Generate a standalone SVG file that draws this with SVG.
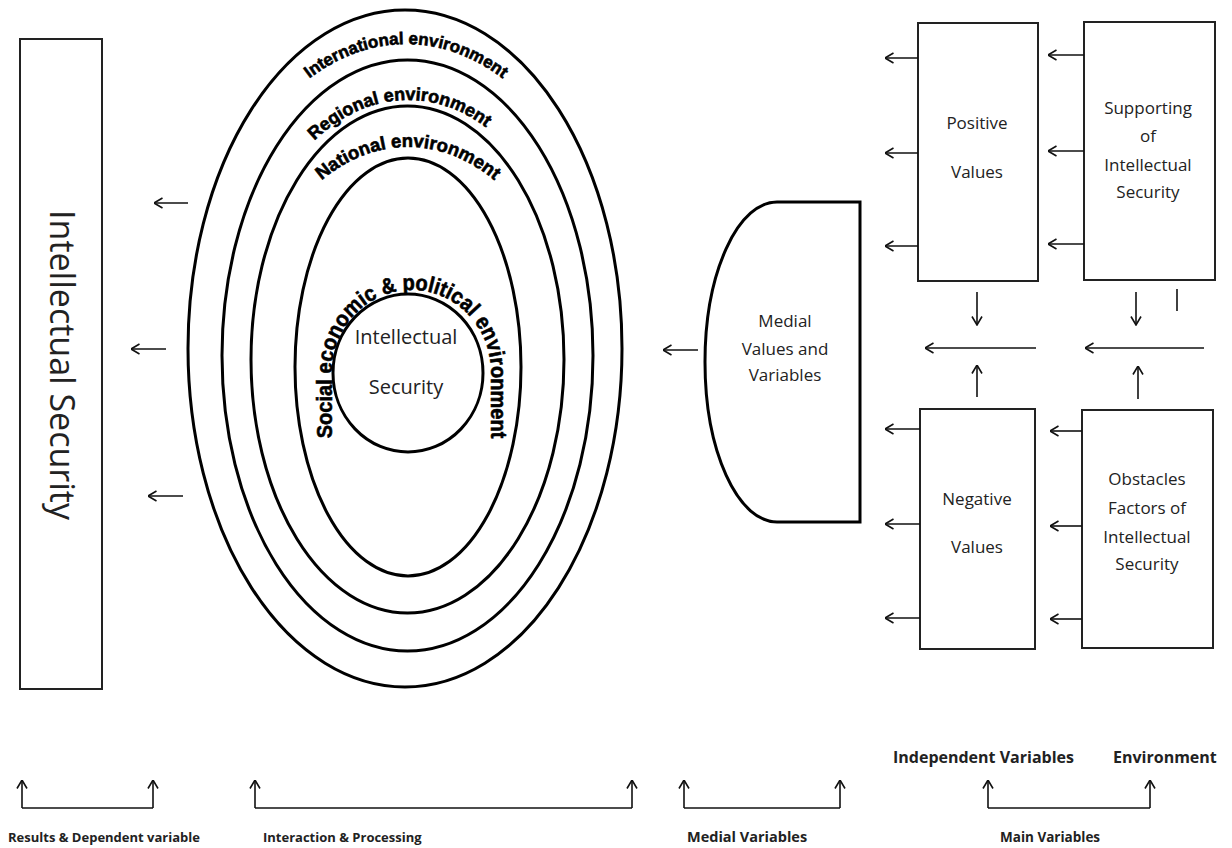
<svg xmlns="http://www.w3.org/2000/svg" width="1232" height="848" viewBox="0 0 1232 848">
<style>
.box{fill:#fff;stroke:#222;stroke-width:2}
.ring{fill:none;stroke:#000;stroke-width:3}
.ln{fill:none;stroke:#111;stroke-width:1.6}
.arr{fill:none;stroke:#111;stroke-width:1.6;marker-end:url(#ah)}
.t{font-family:"Open Sans","Liberation Sans",sans-serif;fill:#222;text-anchor:middle}
.w{font-family:"Liberation Sans",Arial,sans-serif;font-weight:bold;fill:#000;stroke:#000;stroke-width:0.6;text-anchor:middle}
.lb{font-family:"Open Sans","Liberation Sans",sans-serif;fill:#222;font-weight:bold}
</style>
<defs>
<marker id="ah" viewBox="0 0 10 12" refX="9.5" refY="6" markerWidth="10" markerHeight="12" markerUnits="userSpaceOnUse" orient="auto">
<path d="M1,1 L9.5,6 L1,11" fill="none" stroke="#111" stroke-width="1.6"/>
</marker>
<path id="pInt" d="M197,348 A209,304 0 0,1 615,348"/>
<path id="pReg" d="M235,355 A173,255 0 0,1 581,355"/>
<path id="pNat" d="M245,367 A163,220 0 0,1 571,367"/>
<path id="pSoc" d="M332,440 L332,372 A79.5,82 0 0,1 491,372 L491,440"/>
</defs>
<rect width="1232" height="848" fill="#fff"/>

<g id="result">
<rect class="box" x="20" y="39" width="82" height="650"/>
<text class="t" font-size="34" fill="#111" transform="translate(50,365) rotate(90)">Intellectual Security</text>
</g>

<g id="environment-rings">
<ellipse class="ring" cx="405" cy="348.5" rx="217" ry="338.5"/>
<ellipse class="ring" cx="407.5" cy="355.5" rx="185.5" ry="295.5"/>
<ellipse class="ring" cx="407.5" cy="359.5" rx="156.5" ry="253.5"/>
<ellipse class="ring" cx="408" cy="367" rx="113" ry="209"/>
<text class="w" font-size="17"><textPath href="#pInt" startOffset="50%">International environment</textPath></text>
<text class="w" font-size="18"><textPath href="#pReg" startOffset="48.5%">Regional environment</textPath></text>
<text class="w" font-size="18.5"><textPath href="#pNat" startOffset="50%">National environment</textPath></text>
<text class="w" font-size="22"><textPath href="#pSoc" startOffset="50%" textLength="386" lengthAdjust="spacingAndGlyphs">Social economic &amp; political environment</textPath></text>
</g>

<g id="core">
<ellipse class="ring" cx="408" cy="373" rx="75" ry="79"/>
<text class="t" font-size="20"><tspan x="406" y="344">Intellectual</tspan><tspan x="406" y="394">Security</tspan></text>
</g>

<g id="medial">
<path class="ring" d="M777,202 L860,202 L860,522 L777,522 A72,160 0 0,1 777,202 Z" fill="#fff"/>
<text class="t" font-size="17"><tspan x="785" y="327">Medial</tspan><tspan x="785" y="355">Values and</tspan><tspan x="785" y="381">Variables</tspan></text>
</g>

<g id="positive">
<rect class="box" x="918" y="23" width="120" height="258"/>
<text class="t" font-size="17"><tspan x="977" y="129">Positive</tspan><tspan x="977" y="178">Values</tspan></text>
</g>
<g id="supporting">
<rect class="box" x="1084" y="22" width="131" height="258"/>
<text class="t" font-size="17"><tspan x="1148" y="114">Supporting</tspan><tspan x="1148" y="142">of</tspan><tspan x="1148" y="171">Intellectual</tspan><tspan x="1148" y="198">Security</tspan></text>
</g>
<g id="negative">
<rect class="box" x="920" y="409" width="115" height="240"/>
<text class="t" font-size="17"><tspan x="977" y="505">Negative</tspan><tspan x="977" y="553">Values</tspan></text>
</g>
<g id="obstacles">
<rect class="box" x="1082" y="410" width="131" height="238"/>
<text class="t" font-size="17"><tspan x="1147" y="485">Obstacles</tspan><tspan x="1147" y="514">Factors of</tspan><tspan x="1147" y="543">Intellectual</tspan><tspan x="1147" y="570">Security</tspan></text>
</g>

<g id="labels">
<text class="lb" font-size="16" x="893" y="763">Independent Variables</text>
<text class="lb" font-size="16" x="1113" y="763">Environment</text>
<text class="lb" font-size="13" x="8" y="842">Results &amp; Dependent variable</text>
<text class="lb" font-size="13" x="263" y="842">Interaction &amp; Processing</text>
<text class="lb" font-size="14.5" x="687" y="842">Medial Variables</text>
<text class="lb" font-size="13.5" x="1000" y="842">Main Variables</text>
</g>

<g id="connectors">
<path class="arr" d="M188,203 H154"/>
<path class="arr" d="M166,349 H131"/>
<path class="arr" d="M183,496 H148"/>
<path class="arr" d="M698,350 H663"/>
<path class="arr" d="M918,58 H885"/>
<path class="arr" d="M918,153 H885"/>
<path class="arr" d="M918,246 H885"/>
<path class="arr" d="M1084,55 H1048"/>
<path class="arr" d="M1084,151 H1048"/>
<path class="arr" d="M1084,244 H1048"/>
<path class="arr" d="M920,429 H885"/>
<path class="arr" d="M920,524 H885"/>
<path class="arr" d="M920,618 H885"/>
<path class="arr" d="M1082,431 H1050"/>
<path class="arr" d="M1082,526 H1050"/>
<path class="arr" d="M1082,619 H1050"/>
<path class="arr" d="M977,292 V325"/>
<path class="arr" d="M1136,292 V325"/>
<path class="ln" d="M1177,289 V311"/>
<path class="arr" d="M1036,348 H925"/>
<path class="arr" d="M1204,348 H1085"/>
<path class="arr" d="M977,397 V365"/>
<path class="arr" d="M1138,399 V366"/>
<path class="arr" d="M22,808 V780"/>
<path class="arr" d="M153,808 V780"/>
<path class="ln" d="M22,808 H153"/>
<path class="arr" d="M255,808 V780"/>
<path class="arr" d="M632,808 V780"/>
<path class="ln" d="M255,808 H632"/>
<path class="arr" d="M684,808 V780"/>
<path class="arr" d="M840,808 V780"/>
<path class="ln" d="M684,808 H840"/>
<path class="arr" d="M988,808 V780"/>
<path class="arr" d="M1150,808 V780"/>
<path class="ln" d="M988,808 H1150"/>
</g>
</svg>
